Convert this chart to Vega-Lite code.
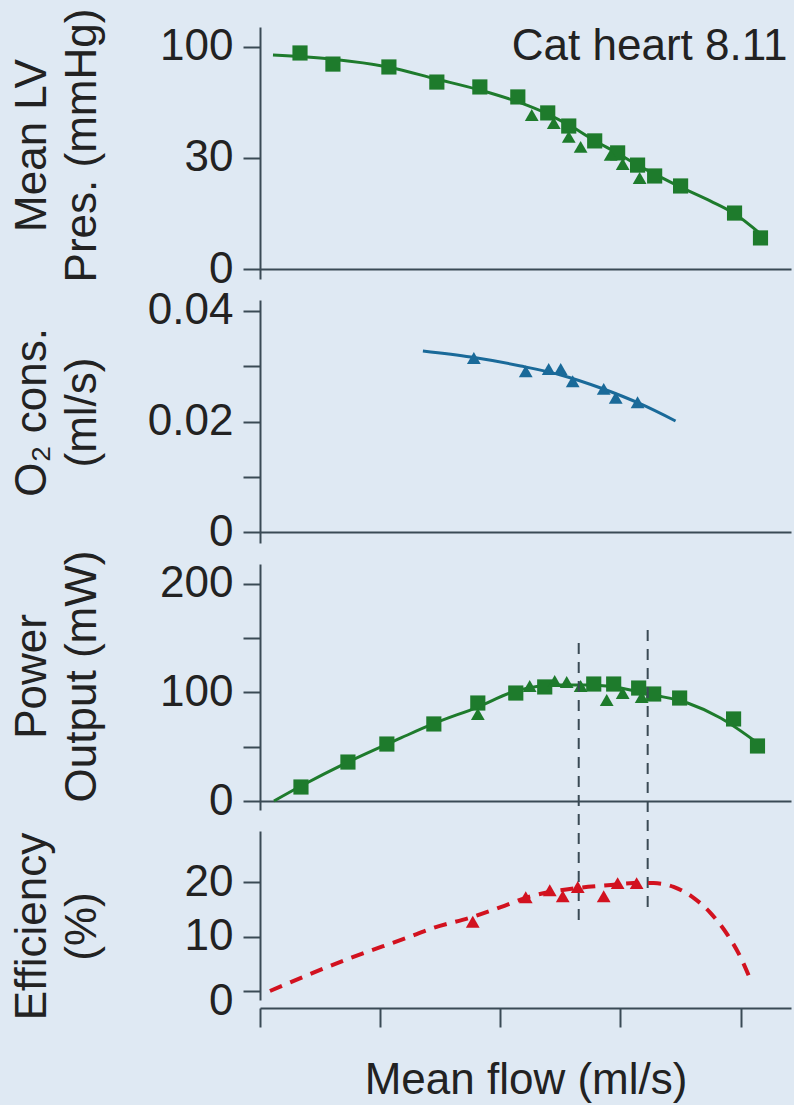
{
  "$schema": "https://vega.github.io/schema/vega-lite/v6.json",
  "background": "#dfe9f3",
  "padding": {"left": 10, "top": 8, "right": 10, "bottom": 10},
  "bounds": "flush",
  "spacing": 21,
  "datasets": {
    "p1_curve": [
      {"flow": 0.108, "value": 96.4}, {"flow": 0.590, "value": 94.6}, {"flow": 1.064, "value": 91.0},
      {"flow": 1.464, "value": 85.6}, {"flow": 1.830, "value": 80.6}, {"flow": 2.171, "value": 74.8},
      {"flow": 2.395, "value": 69.8}, {"flow": 2.586, "value": 64.4}, {"flow": 2.778, "value": 58.1},
      {"flow": 2.969, "value": 52.3}, {"flow": 3.143, "value": 46.8}, {"flow": 3.335, "value": 41.4},
      {"flow": 3.501, "value": 36.9}, {"flow": 3.751, "value": 30.6}, {"flow": 3.942, "value": 25.2},
      {"flow": 4.166, "value": 15.8}
    ],
    "p1_sq": [
      {"flow": 0.333, "value": 97.3}, {"flow": 0.607, "value": 92.3}, {"flow": 1.073, "value": 91.0},
      {"flow": 1.472, "value": 84.2}, {"flow": 1.830, "value": 82.0}, {"flow": 2.146, "value": 77.5},
      {"flow": 2.395, "value": 70.3}, {"flow": 2.570, "value": 64.4}, {"flow": 2.786, "value": 57.7},
      {"flow": 2.977, "value": 52.3}, {"flow": 3.143, "value": 46.8}, {"flow": 3.285, "value": 41.9},
      {"flow": 3.501, "value": 37.4}, {"flow": 3.950, "value": 25.2}, {"flow": 4.166, "value": 14.0}
    ],
    "p1_tri": [
      {"flow": 2.262, "value": 69.4}, {"flow": 2.445, "value": 65.8}, {"flow": 2.570, "value": 59.5},
      {"flow": 2.669, "value": 55.0}, {"flow": 2.919, "value": 51.4}, {"flow": 3.019, "value": 47.3},
      {"flow": 3.160, "value": 41.0}
    ],
    "p2_curve": [
      {"flow": 1.356, "value": 0.03276}, {"flow": 1.755, "value": 0.03167}, {"flow": 2.170, "value": 0.03005},
      {"flow": 2.503, "value": 0.02842}, {"flow": 2.836, "value": 0.02606}, {"flow": 3.168, "value": 0.02317},
      {"flow": 3.459, "value": 0.02009}
    ],
    "p2_tri": [
      {"flow": 1.780, "value": 0.0315}, {"flow": 2.212, "value": 0.0291}, {"flow": 2.403, "value": 0.0295},
      {"flow": 2.503, "value": 0.0295}, {"flow": 2.603, "value": 0.0273}, {"flow": 2.861, "value": 0.0259},
      {"flow": 2.961, "value": 0.0243}, {"flow": 3.143, "value": 0.0235}
    ],
    "p3_curve": [
      {"flow": 0.116, "value": 0}, {"flow": 0.341, "value": 13.8}, {"flow": 0.732, "value": 35.9},
      {"flow": 1.173, "value": 58.1}, {"flow": 1.439, "value": 71.0}, {"flow": 1.813, "value": 86.6},
      {"flow": 2.129, "value": 101.4}, {"flow": 2.478, "value": 106.9}, {"flow": 2.728, "value": 106.9},
      {"flow": 2.944, "value": 105.1}, {"flow": 3.277, "value": 97.7}, {"flow": 3.559, "value": 90.3},
      {"flow": 3.834, "value": 76.5}, {"flow": 4.141, "value": 53.5}
    ],
    "p3_sq": [
      {"flow": 0.341, "value": 12.9}, {"flow": 0.732, "value": 35.9}, {"flow": 1.056, "value": 52.5},
      {"flow": 1.447, "value": 71.0}, {"flow": 1.813, "value": 90.3}, {"flow": 2.129, "value": 99.5},
      {"flow": 2.370, "value": 105.1}, {"flow": 2.778, "value": 107.8}, {"flow": 2.944, "value": 107.8},
      {"flow": 3.152, "value": 104.1}, {"flow": 3.277, "value": 98.6}, {"flow": 3.493, "value": 94.9},
      {"flow": 3.942, "value": 75.6}, {"flow": 4.141, "value": 50.7}
    ],
    "p3_tri": [
      {"flow": 1.813, "value": 80.2}, {"flow": 2.245, "value": 106.0}, {"flow": 2.453, "value": 110.6},
      {"flow": 2.553, "value": 109.7}, {"flow": 2.669, "value": 106.0}, {"flow": 2.886, "value": 93.1},
      {"flow": 3.019, "value": 99.5}, {"flow": 3.177, "value": 95.9}
    ],
    "p4_curve": [
      {"flow": 0.083, "value": 0.0}, {"flow": 0.757, "value": 6.1}, {"flow": 1.214, "value": 9.7},
      {"flow": 1.447, "value": 11.6}, {"flow": 1.771, "value": 13.6}, {"flow": 2.004, "value": 15.4},
      {"flow": 2.212, "value": 17.1}, {"flow": 2.420, "value": 18.2}, {"flow": 2.645, "value": 18.9},
      {"flow": 2.894, "value": 19.4}, {"flow": 3.110, "value": 19.8}, {"flow": 3.277, "value": 19.8},
      {"flow": 3.443, "value": 19.1}, {"flow": 3.609, "value": 17.1}, {"flow": 3.751, "value": 14.3},
      {"flow": 3.892, "value": 10.3}, {"flow": 4.000, "value": 6.2}, {"flow": 4.067, "value": 2.9}
    ],
    "p4_tri": [
      {"flow": 1.771, "value": 12.7}, {"flow": 2.212, "value": 17.2}, {"flow": 2.412, "value": 18.5},
      {"flow": 2.520, "value": 17.4}, {"flow": 2.645, "value": 19.1}, {"flow": 2.861, "value": 17.4},
      {"flow": 2.977, "value": 19.8}, {"flow": 3.135, "value": 19.8}
    ],
    "note": [{"label": "Cat heart 8.11"}],
    "guides": [{"guide": "left"}, {"guide": "right"}]
  },
  "vconcat": [
    {
      "width": 531,
      "height": 252,
      "layer": [
        {
          "encoding": {
            "x": {"field": "flow", "type": "quantitative", "scale": {"domain": [0, 4.42], "nice": false, "zero": false},
                  "axis": {"orient": "bottom", "offset": -10, "ticks": false, "labels": false, "title": null}},
            "y": {"field": "value", "type": "quantitative", "scale": {"domain": [-4.5, 109], "nice": false, "zero": false},
                  "axis": {"values": [0, 50, 100], "labelExpr": "datum.value == 50 ? '30' : datum.label",
                           "title": ["Mean LV", "Pres. (mmHg)"], "titleX": -206, "titleY": 118}}
          },
          "layer": [
            {"data": {"name": "p1_curve"}, "mark": {"type": "line", "interpolate": "monotone", "color": "#1e7b2c", "strokeWidth": 3}},
            {"data": {"name": "p1_sq"}, "mark": {"type": "point", "shape": "square", "filled": true, "opacity": 1, "size": 230, "color": "#1e7b2c"}},
            {"data": {"name": "p1_tri"}, "mark": {"type": "point", "shape": "triangle-up", "filled": true, "opacity": 1, "size": 190, "color": "#1e7b2c"}}
          ]
        },
        {
          "data": {"name": "note"},
          "mark": {"type": "text", "align": "right", "baseline": "alphabetic", "fontSize": 44, "font": "Liberation Sans", "color": "#222222"},
          "encoding": {
            "x": {"datum": 4.39, "type": "quantitative", "scale": {"domain": [0, 4.42], "nice": false, "zero": false}},
            "y": {"datum": 94.1, "type": "quantitative", "scale": {"domain": [-4.5, 109], "nice": false, "zero": false}},
            "text": {"field": "label"}
          }
        }
      ]
    },
    {
      "width": 531,
      "height": 243,
      "encoding": {
        "x": {"field": "flow", "type": "quantitative", "scale": {"domain": [0, 4.42], "nice": false, "zero": false},
              "axis": {"orient": "bottom", "offset": -11, "ticks": false, "labels": false, "title": null}},
        "y": {"field": "value", "type": "quantitative", "scale": {"domain": [-0.00199, 0.04199], "nice": false, "zero": false},
              "axis": {"values": [0, 0.01, 0.02, 0.03, 0.04],
                       "labelExpr": "datum.value == 0 ? '0' : datum.value == 0.02 ? '0.02' : datum.value == 0.04 ? '0.04' : ''",
                       "title": ["O₂ cons.", "(ml/s)"], "titleX": -206, "titleY": 112}}
      },
      "layer": [
        {"data": {"name": "p2_curve"}, "mark": {"type": "line", "interpolate": "monotone", "color": "#1a6a99", "strokeWidth": 3}},
        {"data": {"name": "p2_tri"}, "mark": {"type": "point", "shape": "triangle-up", "filled": true, "opacity": 1, "size": 190, "color": "#1a6a99"}}
      ]
    },
    {
      "width": 531,
      "height": 246,
      "layer": [
        {
          "encoding": {
            "x": {"field": "flow", "type": "quantitative", "scale": {"domain": [0, 4.42], "nice": false, "zero": false},
                  "axis": {"orient": "bottom", "offset": -9, "ticks": false, "labels": false, "title": null}},
            "y": {"field": "value", "type": "quantitative", "scale": {"domain": [-8.29, 218.4], "nice": false, "zero": false},
                  "axis": {"values": [0, 50, 100, 150, 200],
                           "labelExpr": "datum.value % 100 == 0 ? datum.label : ''",
                           "title": ["Power", "Output (mW)"], "titleX": -206, "titleY": 112}}
          },
          "layer": [
            {"data": {"name": "p3_curve"}, "mark": {"type": "line", "interpolate": "monotone", "color": "#1e7b2c", "strokeWidth": 3}},
            {"data": {"name": "p3_sq"}, "mark": {"type": "point", "shape": "square", "filled": true, "opacity": 1, "size": 230, "color": "#1e7b2c"}},
            {"data": {"name": "p3_tri"}, "mark": {"type": "point", "shape": "triangle-up", "filled": true, "opacity": 1, "size": 190, "color": "#1e7b2c"}}
          ]
        },
        {
          "data": {"name": "guides"},
          "transform": [{"filter": "datum.guide == 'left'"}],
          "mark": {"type": "rule", "color": "#3a4a55", "strokeWidth": 2, "strokeDash": [11, 8]},
          "encoding": {
            "x": {"datum": 2.653, "type": "quantitative", "scale": {"domain": [0, 4.42], "nice": false, "zero": false}},
            "y": {"datum": 145.6, "type": "quantitative", "scale": {"domain": [-8.29, 218.4], "nice": false, "zero": false}},
            "y2": {"datum": -114.3}
          }
        },
        {
          "data": {"name": "guides"},
          "transform": [{"filter": "datum.guide == 'right'"}],
          "mark": {"type": "rule", "color": "#3a4a55", "strokeWidth": 2, "strokeDash": [11, 8]},
          "encoding": {
            "x": {"datum": 3.227, "type": "quantitative", "scale": {"domain": [0, 4.42], "nice": false, "zero": false}},
            "y": {"datum": 157.6, "type": "quantitative", "scale": {"domain": [-8.29, 218.4], "nice": false, "zero": false}},
            "y2": {"datum": -102.3}
          }
        }
      ]
    },
    {
      "width": 531,
      "height": 169,
      "encoding": {
        "x": {"field": "flow", "type": "quantitative", "scale": {"domain": [0, 4.42], "nice": false, "zero": false},
              "axis": {"orient": "bottom", "offset": 8, "values": [0, 1, 2, 3, 4], "tickSize": 19, "labels": false,
                       "title": "Mean flow (ml/s)", "titlePadding": 30}},
        "y": {"field": "value", "type": "quantitative", "scale": {"domain": [-1.65, 29.36], "nice": false, "zero": false},
              "axis": {"values": [0, 10, 20],
                       "labelOffset": {"condition": {"test": "datum.value == 0", "value": 10}, "value": 0},
                       "title": ["Efficiency", "(%)"], "titleX": -206, "titleY": 95}}
      },
      "layer": [
        {"data": {"name": "p4_curve"}, "mark": {"type": "line", "interpolate": "monotone", "color": "#d2121f", "strokeWidth": 4, "strokeDash": [13, 9]}},
        {"data": {"name": "p4_tri"}, "mark": {"type": "point", "shape": "triangle-up", "filled": true, "opacity": 1, "size": 190, "color": "#d2121f"}}
      ]
    }
  ],
  "config": {
    "view": {"stroke": null},
    "font": "Liberation Sans",
    "axis": {
      "grid": false,
      "domainColor": "#3a4a55", "domainWidth": 2,
      "tickColor": "#3a4a55", "tickWidth": 2, "tickSize": 17,
      "labelFont": "Liberation Sans", "labelFontSize": 44, "labelColor": "#222222", "labelPadding": 10,
      "titleFont": "Liberation Sans", "titleFontSize": 44, "titleColor": "#222222", "titleFontWeight": "normal",
      "titleAngle": 270, "titleBaseline": "bottom", "titleAlign": "center", "titleLineHeight": 50
    },
    "axisX": {"titleAngle": 0, "titleBaseline": "top", "titleAlign": "center"}
  }
}
